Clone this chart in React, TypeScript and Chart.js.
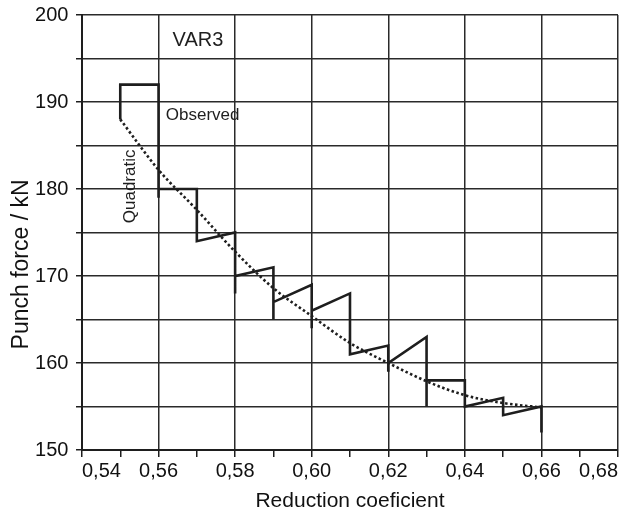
import React, { useEffect, useRef } from "react";
import { Chart, registerables } from "chart.js";

Chart.register(...registerables);

// ---- data ----
const OBS_X = [0.55, 0.55, 0.56, 0.56, 0.56, 0.57, 0.57, 0.58, 0.58, 0.58, 0.59, 0.59, 0.59, 0.60, 0.60, 0.60, 0.61, 0.61, 0.62, 0.62, 0.62, 0.63, 0.63, 0.63, 0.64, 0.64, 0.65, 0.65, 0.66, 0.66];
const OBS_Y = [188, 192, 192, 179, 180, 180, 174, 175, 168, 170, 171, 165, 167, 169, 164, 166, 168, 161, 162, 159, 160, 163, 155, 158, 158, 155, 156, 154, 155, 152];

const QUAD_X = [0.55, 0.56, 0.57, 0.58, 0.59, 0.60, 0.61, 0.62, 0.63, 0.64, 0.65, 0.66];
const QUAD_Y = [188, 182.2, 177.6, 172.8, 168.6, 165.4, 162.3, 160.0, 157.9, 156.3, 155.4, 154.9];

const X_TICK_VALUES = [0.54, 0.56, 0.58, 0.6, 0.62, 0.64, 0.66, 0.68];
const X_TICK_LABELS = ["0,54", "0,56", "0,58", "0,60", "0,62", "0,64", "0,66", "0,68"];
const Y_TICK_LABELS = ["150", "160", "170", "180", "190", "200"];

const X_TITLE = "Reduction coeficient";
const Y_TITLE = "Punch force / kN";

const NOTES = [
  { text: "VAR3", x: 0.5703, y: 197.1, size: 20, align: "center", rotate: false },
  { text: "Observed", x: 0.5619, y: 188.5, size: 17, align: "left", rotate: false },
  { text: "Quadratic", x: 0.5525, y: 180.3, size: 17, align: "center", rotate: true },
];

const FONT = "'Liberation Sans', Arial, Helvetica, sans-serif";
const INK = "#1e1e1e";

const notesPlugin = {
  id: "notes",
  afterDatasetsDraw(chart: any) {
    const { ctx, scales } = chart;
    ctx.save();
    ctx.fillStyle = INK;
    NOTES.forEach((n) => {
      const px = scales.x.getPixelForValue(n.x);
      const py = scales.y.getPixelForValue(n.y);
      ctx.font = `${n.size}px ${FONT}`;
      ctx.textBaseline = "middle";
      ctx.textAlign = n.align as CanvasTextAlign;
      if (n.rotate) {
        ctx.save();
        ctx.translate(px, py);
        ctx.rotate(-Math.PI / 2);
        ctx.fillText(n.text, 0, 0);
        ctx.restore();
      } else {
        ctx.fillText(n.text, px, py);
      }
    });
    ctx.restore();
  },
};

export default function App() {
  const ref = useRef<HTMLCanvasElement | null>(null);

  useEffect(() => {
    if (!ref.current) return;
    const hund = (v: number) => Math.round(v * 100);
    const chart = new Chart(ref.current, {
      type: "line",
      data: {
        datasets: [
          {
            label: "Observed",
            data: OBS_X.map((x, i) => ({ x, y: OBS_Y[i] })),
            borderColor: INK,
            borderWidth: 2.6,
            pointRadius: 0,
            tension: 0,
            fill: false,
          },
          {
            label: "Quadratic",
            data: QUAD_X.map((x, i) => ({ x, y: QUAD_Y[i] })),
            borderColor: INK,
            borderWidth: 2.6,
            borderDash: [2.5, 2.5],
            pointRadius: 0,
            tension: 0.4,
            cubicInterpolationMode: "monotone",
            fill: false,
          },
        ],
      },
      options: {
        animation: false,
        responsive: false,
        layout: { padding: { left: 0, right: 4, top: 15, bottom: 0 } },
        plugins: {
          legend: { display: false },
          tooltip: { enabled: false },
        },
        scales: {
          x: {
            type: "linear",
            min: 0.54,
            max: 0.68,
            border: { display: true, color: INK, width: 2 },
            grid: {
              color: (c: any) => (hund(c.tick?.value ?? 0) % 2 === 0 ? "#2a2a2a" : "rgba(0,0,0,0)"),
              lineWidth: 1.5,
              tickColor: INK,
              tickLength: 7,
              drawTicks: true,
            },
            ticks: {
              stepSize: 0.01,
              align: "inner",
              padding: 2,
              maxRotation: 0,
              autoSkip: false,
              color: "#111",
              font: { family: FONT, size: 20 },
              callback: (v: any) => {
                const i = X_TICK_VALUES.findIndex((t) => hund(t) === hund(Number(v)));
                return i >= 0 ? X_TICK_LABELS[i] : "";
              },
            },
            title: {
              display: true,
              text: X_TITLE,
              color: "#111",
              font: { family: FONT, size: 21 },
              padding: { top: 3.8, bottom: -3 },
            },
          },
          y: {
            type: "linear",
            min: 150,
            max: 200,
            border: { display: true, color: INK, width: 2 },
            grid: {
              color: "#2a2a2a",
              lineWidth: 1.5,
              tickColor: INK,
              tickLength: 6,
            },
            afterFit: (s: any) => {
              s.paddingTop = 0;
              s.paddingBottom = 0;
            },
            ticks: {
              stepSize: 5,
              padding: 7.5,
              color: "#111",
              font: { family: FONT, size: 20 },
              callback: (v: any) => {
                const s = String(Math.round(Number(v)));
                return Y_TICK_LABELS.includes(s) ? s : "";
              },
            },
            title: {
              display: true,
              text: Y_TITLE + "\u00A0".repeat(10),
              color: "#111",
              font: { family: FONT, size: 23 },
              padding: { top: 8, bottom: -8 },
            },
          },
        },
      },
      plugins: [notesPlugin],
    } as any);
    return () => chart.destroy();
  }, []);

  return (
    <div style={{ position: "absolute", left: 0, top: 0, width: 622, height: 511, background: "#fff" }}>
      <canvas ref={ref} width={622} height={511} style={{ display: "block" }} />
    </div>
  );
}
